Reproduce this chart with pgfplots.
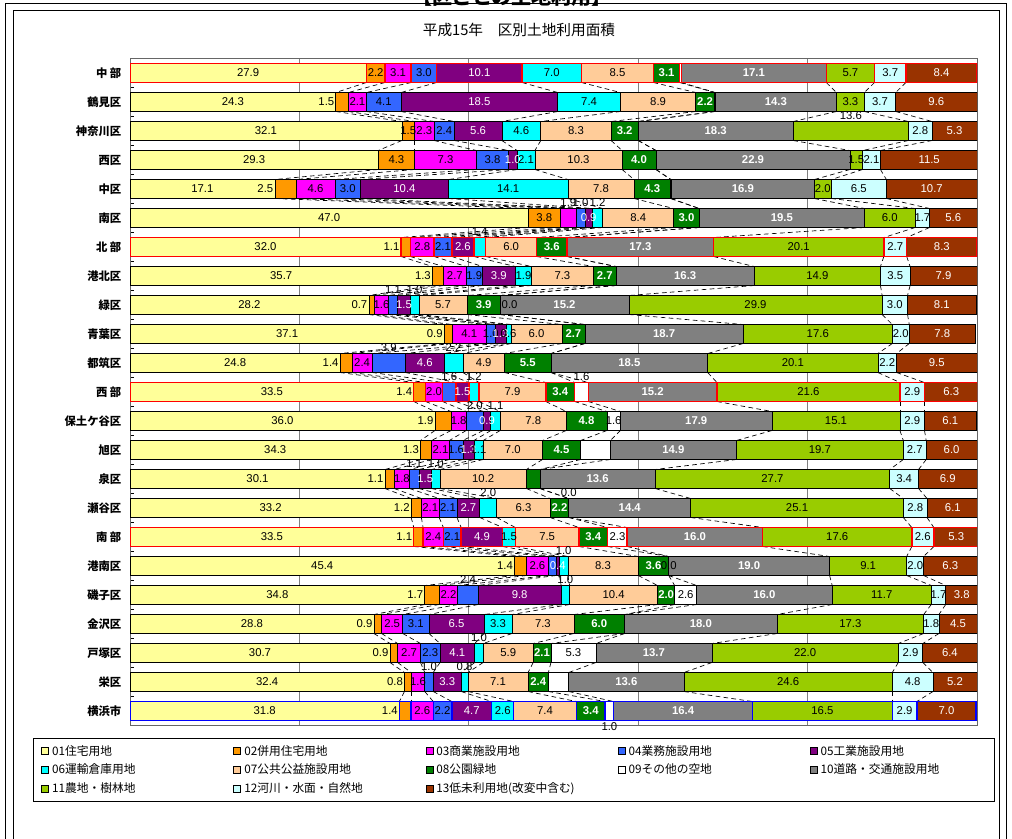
\documentclass[border=0pt]{standalone}
\usepackage{pgfplots}
\pgfplotsset{compat=1.18}
\usepackage{pgfplotstable}
\usepackage{fontspec}
\setmainfont{Liberation Sans}
\newfontfamily\jp{Noto Sans CJK JP}

\definecolor{c1}{HTML}{FFFF99}
\definecolor{c2}{HTML}{FF9900}
\definecolor{c3}{HTML}{FF00FF}
\definecolor{c4}{HTML}{3366FF}
\definecolor{c5}{HTML}{800080}
\definecolor{c6}{HTML}{00FFFF}
\definecolor{c7}{HTML}{FFCC99}
\definecolor{c8}{HTML}{008000}
\definecolor{c9}{HTML}{FFFFFF}
\definecolor{c10}{HTML}{808080}
\definecolor{c11}{HTML}{99CC00}
\definecolor{c12}{HTML}{CCFFFF}
\definecolor{c13}{HTML}{993300}

% hl: 0 normal, 1 red frame, 2 blue frame; v: values (%); p: label position
% (0 none, 1 centre, 2 left of segment, 3 above bar, 4 below bar, 5 right of segment)
\pgfplotstableread{
hl v1 v2 v3 v4 v5 v6 v7 v8 v9 v10 v11 v12 v13 p1 p2 p3 p4 p5 p6 p7 p8 p9 p10 p11 p12 p13
1 27.9 2.2 3.1 3.0 10.1 7.0 8.5 3.1 0.2 17.1 5.7 3.7 8.4   1 1 1 1 1 1 1 1 0 1 1 1 1
0 24.3 1.5 2.1 4.1 18.5 7.4 8.9 2.2 0.1 14.3 3.3 3.7 9.6   1 2 1 1 1 1 1 1 0 1 1 1 1
0 32.1 1.5 2.3 2.4 5.6 4.6 8.3 3.2 0.0 18.3 13.6 2.8 5.3   1 1 1 1 1 1 1 1 0 1 3 1 1
0 29.3 4.3 7.3 3.8 1.0 2.1 10.3 4.0 0.0 22.9 1.5 2.1 11.5  1 1 1 1 1 1 1 1 0 1 1 1 1
0 17.1 2.5 4.6 3.0 10.4 14.1 7.8 4.3 0.1 16.9 2.0 6.5 10.7 1 2 1 1 1 1 1 1 0 1 1 1 1
0 47.0 3.8 1.9 1.0 0.9 1.2 8.4 3.0 0.0 19.5 6.0 1.7 5.6    1 1 3 3 1 3 1 1 0 1 1 1 1
1 32.0 1.1 2.8 2.1 2.6 1.4 6.0 3.6 0.0 17.3 20.1 2.7 8.3   1 2 1 1 1 3 1 1 0 1 1 1 1
0 35.7 1.3 2.7 1.9 3.9 1.9 7.3 2.7 0.0 16.3 14.9 3.5 7.9   1 2 1 1 1 1 1 1 0 1 1 1 1
0 28.2 0.7 1.6 1.1 1.5 1.0 5.7 3.9 0.0 15.2 29.9 3.0 8.1   1 2 1 3 1 3 1 1 5 1 1 1 1
0 37.1 0.9 4.1 1.0 1.3 0.6 6.0 2.7 0.0 18.7 17.6 2.0 7.8   1 2 1 1 1 1 1 1 0 1 1 1 1
0 24.8 1.4 2.4 3.9 4.6 2.2 4.9 5.5 0.0 18.5 20.1 2.2 9.5   1 2 1 3 1 3 1 1 0 1 1 1 1
1 33.5 1.4 2.0 1.6 1.5 1.2 7.9 3.4 1.6 15.2 21.6 2.9 6.3   1 2 1 3 1 3 1 1 3 1 1 1 1
0 36.0 1.9 1.8 2.0 0.9 1.1 7.8 4.8 1.6 17.9 15.1 2.9 6.1   1 2 1 3 1 3 1 1 1 1 1 1 1
0 34.3 1.3 2.1 1.6 1.3 1.1 7.0 4.5 3.5 14.9 19.7 2.7 6.0   1 2 1 1 1 1 1 1 0 1 1 1 1
0 30.1 1.1 1.8 1.1 1.5 1.0 10.2 1.6 0.0 13.6 27.7 3.4 6.9  1 2 1 3 1 3 1 0 0 1 1 1 1
0 33.2 1.2 2.1 2.1 2.7 2.0 6.3 2.2 0.0 14.4 25.1 2.8 6.1   1 2 1 1 1 3 1 1 3 1 1 1 1
1 33.5 1.1 2.4 2.1 4.9 1.5 7.5 3.4 2.3 16.0 17.6 2.6 5.3   1 2 1 1 1 1 1 1 1 1 1 1 1
0 45.4 1.4 2.6 0.9 0.4 1.0 8.3 3.6 0.0 19.0 9.1 2.0 6.3    1 2 1 0 1 3 1 1 1 1 1 1 1
0 34.8 1.7 2.2 2.4 9.8 1.0 10.4 2.0 2.6 16.0 11.7 1.7 3.8  1 2 1 3 1 3 1 1 1 1 1 1 1
0 28.8 0.9 2.5 3.1 6.5 3.3 7.3 6.0 0.0 18.0 17.3 1.8 4.5   1 2 1 1 1 1 1 1 0 1 1 1 1
0 30.7 0.9 2.7 2.3 4.1 1.0 5.9 2.1 5.3 13.7 22.0 2.9 6.4   1 2 1 1 1 3 1 1 1 1 1 1 1
0 32.4 0.8 1.6 1.0 3.3 0.8 7.1 2.4 2.4 13.6 24.6 4.8 5.2   1 2 1 3 1 3 1 1 0 1 1 1 1
2 31.8 1.4 2.6 2.2 4.7 2.6 7.4 3.4 1.0 16.4 16.5 2.9 7.0   1 2 1 1 1 1 1 1 4 1 1 1 1
}\data
\pgfplotstablecreatecol[create col/expr={\thisrow{v1}}]{s1}\data
\pgfplotstablecreatecol[create col/expr={\thisrow{s1}+\thisrow{v2}}]{s2}\data
\pgfplotstablecreatecol[create col/expr={\thisrow{s2}+\thisrow{v3}}]{s3}\data
\pgfplotstablecreatecol[create col/expr={\thisrow{s3}+\thisrow{v4}}]{s4}\data
\pgfplotstablecreatecol[create col/expr={\thisrow{s4}+\thisrow{v5}}]{s5}\data
\pgfplotstablecreatecol[create col/expr={\thisrow{s5}+\thisrow{v6}}]{s6}\data
\pgfplotstablecreatecol[create col/expr={\thisrow{s6}+\thisrow{v7}}]{s7}\data
\pgfplotstablecreatecol[create col/expr={\thisrow{s7}+\thisrow{v8}}]{s8}\data
\pgfplotstablecreatecol[create col/expr={\thisrow{s8}+\thisrow{v9}}]{s9}\data
\pgfplotstablecreatecol[create col/expr={\thisrow{s9}+\thisrow{v10}}]{s10}\data
\pgfplotstablecreatecol[create col/expr={\thisrow{s10}+\thisrow{v11}}]{s11}\data
\pgfplotstablecreatecol[create col/expr={\thisrow{s11}+\thisrow{v12}}]{s12}\data
\pgfplotstablecreatecol[create col/expr={\thisrow{s12}+\thisrow{v13}}]{s13}\data

\pgfplotsset{
  barbase/.style={xbar, bar shift=0pt, bar width=0.655, forget plot, unbounded coords=discard},
  sls/.style={draw=black, line width=0.5pt, dash pattern=on 3.5pt off 2.5pt, mark=none, forget plot, unbounded coords=discard},
  lbl/.style={draw=none, mark=none, forget plot, unbounded coords=discard,
    nodes near coords={\pgfmathprintnumber[fixed,fixed zerofill,precision=1,assume math mode=true]{\pgfplotspointmeta}},
    nodes near coords style={font=\fontsize{8.5}{9}\selectfont, inner sep=1pt}},
}

\newcommand\bars[2]{%
 \addplot[barbase, fill=#2, draw=black, line width=0.5pt, restrict expr to domain={\thisrow{hl}}{0:0}] table[x=#1, y expr=\coordindex]{\data};
 \addplot[barbase, fill=#2, draw=red, line width=1.1pt, restrict expr to domain={\thisrow{hl}}{1:1}] table[x=#1, y expr=\coordindex]{\data};
 \addplot[barbase, fill=#2, draw=blue, line width=1.1pt, restrict expr to domain={\thisrow{hl}}{2:2}] table[x=#1, y expr=\coordindex]{\data};
}
% series lines between row #1-1 and row #1
\newcommand\serln[1]{%
 \pgfplotsinvokeforeach{1,...,12}{%
  \addplot[sls, restrict expr to domain={\coordindex-#1}{-1:0}] table[x=s##1, y expr={\coordindex<#1 ? \coordindex+0.3275 : \coordindex-0.3275}]{\data};
 }}
% #1 code, #2 series, #3 x expr, #4 y offset, #5 node style
\newcommand\lab[5]{%
 \addplot[lbl, point meta=\thisrow{v#2}, restrict expr to domain={\thisrow{p#2}}{#1:#1}, nodes near coords style={#5}] table[x expr={#3}, y expr={\coordindex#4}]{\data};
}

\begin{document}
\begin{tikzpicture}
\useasboundingbox (0,0) rectangle (759pt,-628.5pt);
\clip (0,0) rectangle (759pt,-628.5pt);
\begin{scope}[x=0.75pt,y=-0.75pt]
\draw[black, line width=0.5pt] (5.5,900) -- (5.5,3.5) -- (1006.5,3.5) -- (1006.5,900);
\draw[black, line width=0.9pt] (13.5,900) -- (13.5,10.5) -- (999.5,10.5) -- (999.5,900);
\node[font=\jp\bfseries\fontsize{15}{15}\selectfont] at (512,-3) {【区ごとの土地利用】};
\node[font=\jp\fontsize{11}{11}\selectfont] at (519,30) {平成15年　区別土地利用面積};
\end{scope}
\begin{axis}[
  at={(97.5pt,-43.875pt)}, anchor=north west,
  scale only axis, width=635.25pt, height=500.25pt,
  xmin=0, xmax=100, ymin=-0.5, ymax=22.5, y dir=reverse,
  xtick={20,40,60,80}, xticklabels={}, xtick style={draw=none},
  xmajorgrids, grid style={black!50, line width=0.6pt},
  ytick={0,...,22},
  yticklabels={中 部,鶴見区,神奈川区,西区,中区,南区,北 部,港北区,緑区,青葉区,都筑区,西 部,保土ケ谷区,旭区,泉区,瀬谷区,南 部,港南区,磯子区,金沢区,戸塚区,栄区,横浜市},
  major y tick style={draw=none},
  minor ytick={-0.5,0.5,...,22.5}, minor tick length=3pt, minor y tick style={black, line width=0.6pt},
  ytick pos=left,
  yticklabel style={font=\jp\bfseries\fontsize{8.5}{9}\selectfont, xshift=-3pt},
  axis line style={black!60, line width=0.6pt},
  legend columns=5,
  legend cell align=left,
  legend style={at={(axis description cs:-0.1145,-0.0187)}, anchor=north west, draw=black, line width=0.5pt,
    font=\jp\fontsize{8.8}{9}\selectfont, inner xsep=6pt, inner ysep=2.5pt,
    nodes={inner ysep=2.6pt, inner xsep=2.5pt},
    /tikz/every even column/.append style={column sep=0pt}},
  legend image code/.code={\draw[#1,draw=black,line width=0.4pt] (0pt,-2.6pt) rectangle (5.2pt,2.6pt);},
]
% series lines
\serln{1}\serln{2}\serln{3}\serln{4}\serln{5}\serln{6}\serln{7}\serln{8}\serln{9}\serln{10}\serln{11}
\serln{12}\serln{13}\serln{14}\serln{15}\serln{16}\serln{17}\serln{18}\serln{19}\serln{20}\serln{21}\serln{22}
% bars (drawn longest first)
\bars{s13}{c13}
\bars{s12}{c12}
\bars{s11}{c11}
\bars{s10}{c10}
\bars{s9}{c9}
\bars{s8}{c8}
\bars{s7}{c7}
\bars{s6}{c6}
\bars{s5}{c5}
\bars{s4}{c4}
\bars{s3}{c3}
\bars{s2}{c2}
\bars{s1}{c1}
% labels
\lab{1}{1}{0.5*\thisrow{v1}}{+0}{anchor=center}
\lab{1}{2}{\thisrow{s1}+0.5*\thisrow{v2}}{+0}{anchor=center}
\lab{2}{2}{\thisrow{s1}}{+0}{anchor=east}
\lab{1}{3}{\thisrow{s2}+0.5*\thisrow{v3}}{+0}{anchor=center}
\lab{3}{3}{\thisrow{s2}+0.5*\thisrow{v3}}{-0.33}{anchor=south}
\lab{1}{4}{\thisrow{s3}+0.5*\thisrow{v4}}{+0}{anchor=center}
\lab{3}{4}{\thisrow{s3}+0.5*\thisrow{v4}}{-0.33}{anchor=south}
\lab{1}{5}{\thisrow{s4}+0.5*\thisrow{v5}}{+0}{anchor=center, text=white}
\lab{1}{6}{\thisrow{s5}+0.5*\thisrow{v6}}{+0}{anchor=center}
\lab{3}{6}{\thisrow{s5}+0.5*\thisrow{v6}}{-0.33}{anchor=south}
\lab{1}{7}{\thisrow{s6}+0.5*\thisrow{v7}}{+0}{anchor=center}
\lab{1}{8}{\thisrow{s7}+0.5*\thisrow{v8}}{+0}{anchor=center, text=white, font=\bfseries\fontsize{8.5}{9}\selectfont}
\lab{1}{9}{\thisrow{s8}+0.5*\thisrow{v9}}{+0}{anchor=center}
\lab{3}{9}{\thisrow{s8}+0.5*\thisrow{v9}}{-0.33}{anchor=south}
\lab{4}{9}{\thisrow{s8}+0.5*\thisrow{v9}}{+0.33}{anchor=north}
\lab{5}{9}{\thisrow{s9}}{+0}{anchor=west}
\lab{1}{10}{\thisrow{s9}+0.5*\thisrow{v10}}{+0}{anchor=center, text=white, font=\bfseries\fontsize{8.5}{9}\selectfont}
\lab{1}{11}{\thisrow{s10}+0.5*\thisrow{v11}}{+0}{anchor=center}
\lab{3}{11}{\thisrow{s10}+0.5*\thisrow{v11}}{-0.33}{anchor=south}
\lab{1}{12}{\thisrow{s11}+0.5*\thisrow{v12}}{+0}{anchor=center}
\lab{1}{13}{\thisrow{s12}+0.5*\thisrow{v13}}{+0}{anchor=center, text=white}
% legend
\addlegendimage{fill=c1}\addlegendentry{\makebox[133.5pt][l]{01住宅用地}}
\addlegendimage{fill=c2}\addlegendentry{\makebox[133.5pt][l]{02併用住宅用地}}
\addlegendimage{fill=c3}\addlegendentry{\makebox[133.5pt][l]{03商業施設用地}}
\addlegendimage{fill=c4}\addlegendentry{\makebox[133.5pt][l]{04業務施設用地}}
\addlegendimage{fill=c5}\addlegendentry{\makebox[122pt][l]{05工業施設用地}}
\addlegendimage{fill=c6}\addlegendentry{\makebox[133.5pt][l]{06運輸倉庫用地}}
\addlegendimage{fill=c7}\addlegendentry{\makebox[133.5pt][l]{07公共公益施設用地}}
\addlegendimage{fill=c8}\addlegendentry{\makebox[133.5pt][l]{08公園緑地}}
\addlegendimage{fill=c9}\addlegendentry{\makebox[133.5pt][l]{09その他の空地}}
\addlegendimage{fill=c10}\addlegendentry{\makebox[122pt][l]{10道路・交通施設用地}}
\addlegendimage{fill=c11}\addlegendentry{\makebox[133.5pt][l]{11農地・樹林地}}
\addlegendimage{fill=c12}\addlegendentry{\makebox[133.5pt][l]{12河川・水面・自然地}}
\addlegendimage{fill=c13}\addlegendentry{\makebox[133.5pt][l]{13低未利用地(改変中含む)}}
\end{axis}
\end{tikzpicture}
\end{document}
